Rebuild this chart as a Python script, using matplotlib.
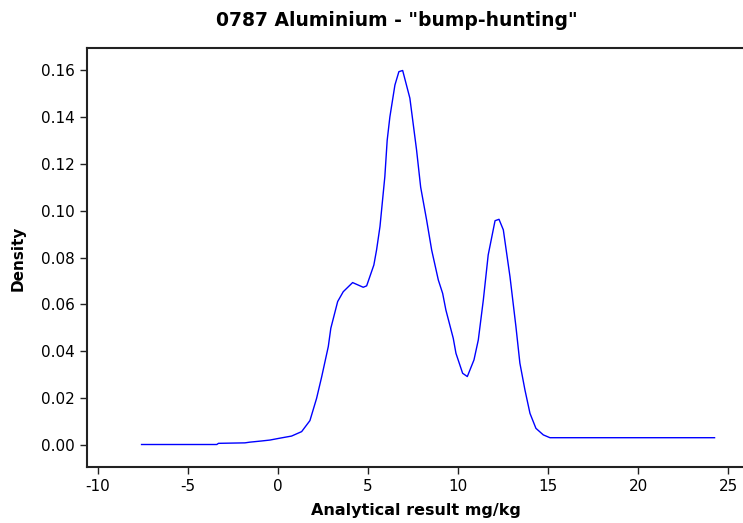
import matplotlib
matplotlib.use("Agg")
import matplotlib.pyplot as plt

x_vals = [-7.57, -3.39, -3.3, -1.83, -1.56, -0.91, -0.44, 0.11, 0.76, 1.32, 1.78, 2.15, 2.43,
          2.8, 2.94, 3.32, 3.63, 4.15, 4.74, 4.93, 5.33, 5.48, 5.67, 5.94, 6.07, 6.22,
          6.5, 6.72, 6.93, 7.33, 7.7, 7.93, 8.26, 8.54, 8.91, 9.15, 9.33, 9.74, 9.89,
          10.26, 10.52, 10.89, 11.13, 11.41, 11.68, 12.06, 12.28, 12.52, 12.89, 13.22,
          13.44, 13.72, 14.0, 14.33, 14.74, 15.11, 24.25]
density = [0.0002, 0.0002, 0.0007, 0.0009, 0.0012, 0.0017, 0.0021, 0.0029, 0.0038, 0.0057,
           0.0104, 0.0199, 0.029, 0.042, 0.0498, 0.0612, 0.0654, 0.0693, 0.0673, 0.0679,
           0.0768, 0.0832, 0.0932, 0.1145, 0.130, 0.140, 0.1536, 0.1593, 0.1598, 0.148,
           0.126, 0.110, 0.096, 0.0832, 0.0704, 0.0647, 0.0576, 0.0455, 0.0391, 0.0306,
           0.0292, 0.0363, 0.0448, 0.0619, 0.0811, 0.0957, 0.0963, 0.0918, 0.0718, 0.0505,
           0.0349, 0.0235, 0.0135, 0.0071, 0.0043, 0.0031, 0.0031]

x_ticks = [-10, -5, 0, 5, 10, 15, 20, 25]
y_ticks = [0.00, 0.02, 0.04, 0.06, 0.08, 0.10, 0.12, 0.14, 0.16]

plt.rcParams['font.family'] = ['DejaVu Sans']
fig = plt.figure(figsize=(7.43, 5.23), dpi=100)
ax = fig.add_axes([87/743, 1-467/523, 1-87/743, (467-48)/523])
ax.plot(x_vals, density, color='#0000ff', lw=1.0)
ax.set_xlim(-10.6, 25.83)
ax.set_ylim(-0.0094, 0.1694)
ax.set_xticks(x_ticks)
ax.set_xticklabels([str(t) for t in x_ticks])
ax.set_yticks(y_ticks)
ax.set_yticklabels([f"{t:.2f}" for t in y_ticks])
ax.spines['right'].set_visible(False)
for s in ['left', 'bottom', 'top']:
    ax.spines[s].set_color('#222222')
    ax.spines[s].set_linewidth(1.5)
ax.tick_params(direction='out', length=5, width=1, colors='#222222', labelcolor='black', labelsize=11)
fig.text(397/743, 1-20/523, '0787 Aluminium - "bump-hunting"', ha='center', va='center',
         fontsize=13.5, fontweight='bold')
fig.text(416/743, 1-511/523, 'Analytical result mg/kg', ha='center', va='center',
         fontsize=11.5, fontweight='bold')
fig.text(18/743, 1-258/523, 'Density', ha='center', va='center', rotation=90,
         fontsize=11, fontweight='bold')
fig.savefig('out.png', dpi=100)
